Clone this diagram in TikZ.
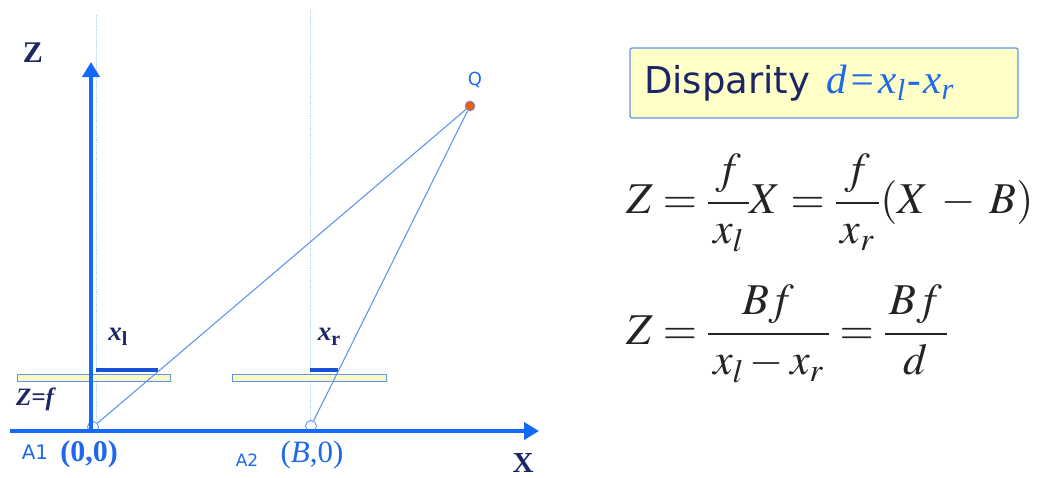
\documentclass[tikz,border=0pt]{standalone}
\usepackage{amsmath,amssymb}
\usepackage{mathptmx}
\usepackage{fontspec}
\setmainfont{Liberation Serif}
\setsansfont{Liberation Sans}
\newfontfamily\labelfont{DejaVu Sans}
\usetikzlibrary{calc,arrows.meta,positioning}
\definecolor{axisBlue}{RGB}{20,105,250}
\definecolor{rayBlue}{RGB}{95,150,240}
\definecolor{guideBlue}{RGB}{175,205,250}
\definecolor{labelBlue}{RGB}{30,105,235}
\definecolor{inkNavy}{RGB}{28,38,100}
\definecolor{sensorBlue}{RGB}{25,80,215}
\definecolor{planeYellow}{RGB}{250,250,195}
\definecolor{noteYellow}{RGB}{255,255,200}
\definecolor{pointOrange}{RGB}{230,95,25}
\definecolor{eqInk}{RGB}{35,35,35}

\begin{document}
\begin{tikzpicture}[x=1pt,y=-1pt,
  plane/.style={draw=rayBlue,fill=planeYellow,line width=0.8pt,minimum height=7pt,inner sep=0pt},
  camera/.style={circle,draw=rayBlue,fill=white,line width=0.9pt,minimum size=11pt,inner sep=0pt},
  ray/.style={rayBlue,line width=1.1pt},
  guide/.style={guideBlue,densely dotted,line width=0.9pt},
  axisline/.style={axisBlue,line width=4pt,-{Triangle[length=15pt,width=17pt]}},
  sensor/.style={sensorBlue,line width=4.5pt}]
\path[use as bounding box] (0,0) rectangle (1044,477);

% guide lines through the image centres
\draw[guide] (96,15) -- (96,430);
\draw[guide] (310,10) -- (310,426);

% image planes and sensor readings
\node[plane,minimum width=153pt] (planeL) at (93.5,378) {};
\node[plane,minimum width=154pt] (planeR) at (309.5,378) {};
\draw[sensor] (96,370) -- (158,370);
\draw[sensor] (310,370) -- (338,370);

% cameras, point and rays
\node[camera] (camL) at (93,427) {};
\node[camera] (camR) at (311,426) {};
\node[circle,fill=pointOrange,draw=rayBlue,line width=0.6pt,minimum size=10pt,inner sep=0pt] (Q) at (470,106) {};
\draw[ray] (camL) -- (Q);
\draw[ray] (camR) -- (Q);

% axes
\coordinate (xstart) at (10,431);
\coordinate (xend) at (539,431);
\coordinate (zstart) at (91,433);
\coordinate (zend) at (91,62);
\draw[axisline] (xstart) -- (xend);
\draw[axisline] (zstart) -- (zend);

% labels
\node[text=inkNavy,font=\bfseries\fontsize{30}{32}\selectfont] (zlabel) at (33,53) {Z};
\node[text=inkNavy,font=\bfseries\fontsize{29}{31}\selectfont,anchor=base,inner sep=0pt] (xlabel) at (523,472) {X};
\node[text=inkNavy,font=\bfseries\itshape\fontsize{25}{28}\selectfont] (zf) at (35,399) {Z=f};
\node[text=inkNavy,font=\bfseries\fontsize{27}{29}\selectfont] (xl) at (118,337) {\textit{x}\raisebox{-5pt}{\fontsize{20}{22}\selectfont l}};
\node[text=inkNavy,font=\bfseries\fontsize{27}{29}\selectfont] (xr) at (329,337) {\textit{x}\raisebox{-5pt}{\fontsize{20}{22}\selectfont r}};
\node[text=labelBlue,font=\labelfont\fontsize{18}{20}\selectfont] (qlabel) at (475,80) {Q};
\node[text=labelBlue,font=\labelfont\fontsize{20}{22}\selectfont] (a1) at (35,452) {A1};
\node[text=labelBlue,font=\bfseries\fontsize{30}{32}\selectfont] (a1pos) at (89,454) {(0,0)};
\node[text=labelBlue,font=\labelfont\fontsize{17}{19}\selectfont] (a2) at (247,460) {A2};
\node[text=labelBlue,font=\fontsize{31}{33}\selectfont] (a2pos) at (312,455) {(\textit{B},0)};

% disparity note
\node[draw=rayBlue,fill=noteYellow,line width=1.2pt,rounded corners=2pt,inner xsep=14pt,text width=360pt,align=left,minimum height=70pt,font=\fontsize{37}{40}\selectfont] (note) at (824,83)
  {{\labelfont\color{inkNavy}Disparity}\hspace{4pt} {\rmfamily\itshape\color{labelBlue}\fontsize{41}{44}\selectfont d\kern2pt=\kern2pt x\textsubscript{l}\kern2pt-\kern2pt x\textsubscript{r}}};

% formulas
\node[anchor=west,text=eqInk,font=\fontsize{44}{52}\selectfont] (eqA) at (623,203)
  {$\displaystyle Z=\frac{\,f\,}{\,x_l\,}X=\frac{\,f\,}{\,x_r\,}(X\mkern3mu-\mkern3mu B)$};
\node[anchor=west,text=eqInk,font=\fontsize{44}{52}\selectfont] (eqB) at (623,334)
  {$\displaystyle Z=\frac{Bf}{\,x_l-x_r\,}=\frac{\mkern2mu Bf\mkern2mu}{d}$};
\end{tikzpicture}
\end{document}
